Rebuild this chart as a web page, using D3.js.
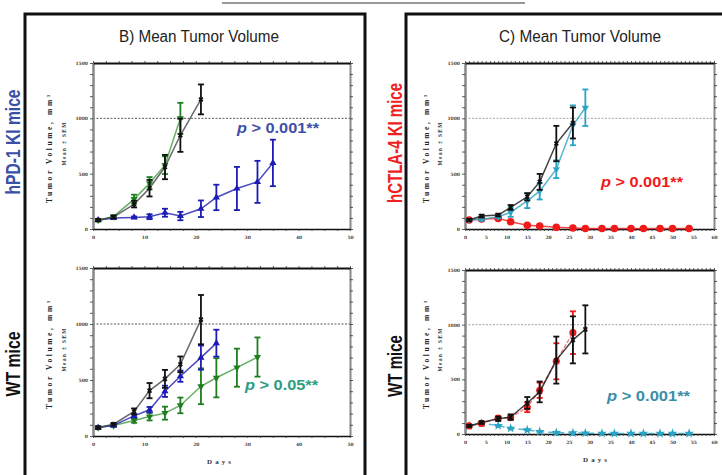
<!DOCTYPE html>
<html>
<head>
<meta charset="utf-8">
<script src="https://cdn.jsdelivr.net/npm/d3@7"></script>
<style>
  body { margin: 0; background: #fff; }
  text { font-family: "Liberation Sans", Arial, sans-serif; }
</style>
</head>
<body>
<div id="wrapper"></div>
<script>
// ---- Panel B (anti hPD-1), days of measurement
const daysB = [1, 4, 8, 11, 14, 17, 21, 24, 28, 32, 35];
// hPD-1 KI mice
const bKiBlack = [81, 108, 225, 369, 560, 847, 1171];
const bKiBlackSem = [10, 12, 30, 75, 110, 150, 135];
const bKiGreen = [80, 112, 270, 414, 577, 1000];
const bKiGreenSem = [10, 12, 40, 55, 80, 140];
const bKiBlue = [80, 99, 105, 111, 147, 117, 183, 285, 366, 426, 597];
const bKiBlueSem = [8, 8, 8, 22, 36, 38, 75, 115, 195, 190, 210];
// WT mice
const bWtBlack = [75, 105, 219, 405, 510, 640, 1039];
const bWtBlackSem = [10, 12, 27, 68, 80, 70, 220];
const bWtBlue = [75, 95, 180, 234, 399, 534, 700, 829];
const bWtBlueSem = [8, 10, 15, 25, 50, 50, 108, 120];
const bWtGreen = [75, 93, 138, 174, 204, 273, 444, 520, 610, 705];
const bWtGreenSem = [8, 10, 20, 35, 58, 70, 160, 175, 170, 175];

// ---- Panel C (anti hCTLA-4)
const daysC = [1, 4, 8, 11, 15, 18, 22, 26, 29, 33, 36, 40, 43, 47, 50, 54];
// hCTLA-4 KI mice
const cKiBlack = [81, 117, 126, 195, 291, 426, 772, 958];
const cKiBlackSem = [10, 12, 12, 22, 33, 72, 160, 140];
const cKiCyan = [81, 87, 111, 150, 255, 342, 540, 937, 1096];
const cKiCyanSem = [8, 10, 12, 40, 66, 75, 80, 180, 165];
const cKiRed = [81, 90, 96, 66, 33, 27, 15, 9, 5, 4, 4, 4, 4, 4, 4, 4];
const cKiRedSem = [8, 8, 8, 6, 5, 4, 3, 3, 2, 2, 2, 2, 2, 2, 2, 2];
// WT mice
const cWtBlack = [74, 105, 139, 155, 284, 385, 676, 861, 957];
const cWtBlackSem = [10, 12, 20, 25, 54, 95, 215, 215, 220];
const cWtRed = [74, 97, 145, 150, 245, 400, 665, 927];
const cWtRedSem = [8, 10, 15, 20, 45, 70, 165, 195];
const cWtCyan = [74, 97, 77, 52, 37, 22, 12, 10, 8, 6, 5, 5, 5, 5, 5, 5];
const cWtCyanSem = [6, 6, 6, 5, 4, 3, 2, 2, 2, 2, 2, 2, 2, 2, 2, 2];

// ticks
const yTicks = [0, 500, 1000, 1500];
const xTicksB = [0, 10, 20, 30, 40, 50];
const xTicksC = [0, 5, 10, 15, 20, 25, 30, 35, 40, 45, 50, 55, 60];

const BLACK = "#111", BLUE = "#1c1cb4", GREEN = "#1e7d1e", CYAN = "#2aa3c4", RED = "#f01a1a";

const svg = d3.select("#wrapper").append("svg")
    .attr("width", 722)
    .attr("height", 475);

// frames round the two panels
svg.append("line").attr("x1", 222).attr("x2", 525).attr("y1", 3).attr("y2", 3)
    .attr("stroke", "#333").attr("stroke-width", 1.2);
svg.append("path").attr("d", "M25,476V14H365V476")
    .attr("fill", "none").attr("stroke", "#111").attr("stroke-width", 3);
svg.append("path").attr("d", "M406,476V14H723")
    .attr("fill", "none").attr("stroke", "#111").attr("stroke-width", 3);

function addText(str, x, y, opt) {
    const t = svg.append("text")
        .attr("transform", `translate(${x},${y})` + (opt.rot ? " rotate(-90)" : ""))
        .attr("text-anchor", opt.anchor || "middle")
        .attr("font-size", opt.size)
        .attr("font-weight", opt.weight || "normal")
        .attr("fill", opt.color || "#222")
        .text(str);
    if (opt.len) t.attr("textLength", opt.len).attr("lengthAdjust", "spacingAndGlyphs");
    return t;
}

// panel titles and row labels
addText("B) Mean Tumor Volume", 199, 42, {size: 16, len: 160, color: "#222"});
addText("C) Mean Tumor Volume", 580, 42, {size: 16, len: 162, color: "#222"});
addText("hPD-1 KI mice", 20, 142, {size: 20, len: 105, weight: "bold", rot: true, color: "#3a4fa6"});
addText("WT mice", 20, 364, {size: 20, len: 65, weight: "bold", rot: true, color: "#111"});
addText("hCTLA-4 KI mice", 402, 143, {size: 20, len: 120, weight: "bold", rot: true, color: "#f02020"});
addText("WT mice", 402, 366, {size: 20, len: 62, weight: "bold", rot: true, color: "#111"});

function pLabel(x, y, str, color, len) {
    const t = addText("", x, y, {size: 15, weight: "bold", anchor: "start", color: color, len: len});
    t.append("tspan").attr("font-style", "italic").text("p");
    t.append("tspan").text(str);
}

function drawPlot(cfg) {
    const x = d3.scaleLinear().domain([0, cfg.xMax]).range([cfg.x0, cfg.x1]);
    const y = d3.scaleLinear().domain([0, 1500]).range([cfg.y0, cfg.y1]);
    const g = svg.append("g");
    const tickFont = "DejaVu Serif";

    // 1000 mm3 line
    g.append("line")
        .attr("x1", x(0)).attr("x2", x(cfg.xMax))
        .attr("y1", y(1000)).attr("y2", y(1000))
        .attr("stroke", cfg.refColor).attr("stroke-width", 0.9)
        .attr("stroke-dasharray", "2,1.5");

    const yMinor = d3.range(0, 1501, 100);
    const xMinor = d3.range(0, cfg.xMax + 0.01, cfg.xStep);

    const left = g.append("g")
        .attr("transform", `translate(${x(0)},0)`)
        .call(d3.axisLeft(y).tickValues(yMinor).tickSize(3).tickSizeOuter(0).tickPadding(2)
            .tickFormat(d => yTicks.includes(d) ? d : ""));
    left.select(".domain").attr("stroke", "#888").attr("stroke-width", 2.5);

    const right = g.append("g")
        .attr("transform", `translate(${x(cfg.xMax)},0)`)
        .call(d3.axisRight(y).tickValues(yMinor).tickSize(3).tickSizeOuter(0).tickFormat(""));
    right.select(".domain").attr("stroke", "#888").attr("stroke-width", 2);

    const top = g.append("g")
        .attr("transform", `translate(0,${y(1500)})`)
        .call(d3.axisTop(x).tickValues(xMinor).tickSize(2).tickSizeOuter(0).tickFormat(""));
    top.select(".domain").attr("stroke", "#111").attr("stroke-width", 2);

    const bottom = g.append("g")
        .attr("transform", `translate(0,${y(0)})`)
        .call(d3.axisBottom(x).tickValues(xMinor).tickSize(2).tickSizeOuter(0).tickPadding(5)
            .tickFormat(d => cfg.xTicks.includes(d) ? d : ""));
    bottom.select(".domain").attr("stroke", "#111").attr("stroke-width", 1.5);

    g.selectAll(".tick line").attr("stroke", "#333").attr("stroke-width", 0.8);
    g.selectAll(".tick text")
        .attr("font-size", 4.5).attr("font-weight", "bold")
        .attr("fill", "#444").style("font-family", tickFont);

    // y title
    const mid = (cfg.y0 + cfg.y1) / 2;
    g.append("text")
        .attr("transform", `translate(${cfg.x0 - cfg.t1},${mid + 3}) rotate(-90)`)
        .attr("text-anchor", "middle")
        .attr("font-size", 7.5).attr("font-weight", "bold").attr("fill", "#222")
        .attr("textLength", 108).attr("lengthAdjust", "spacing")
        .style("font-family", "Liberation Serif")
        .text("Tumor Volume, mm³");
    g.append("text")
        .attr("transform", `translate(${cfg.x0 - cfg.t2},${mid - 2}) rotate(-90)`)
        .attr("text-anchor", "middle")
        .attr("font-size", 5.5).attr("font-weight", "bold").attr("fill", "#333")
        .attr("textLength", 43).attr("lengthAdjust", "spacing")
        .style("font-family", "Liberation Serif")
        .text("Mean ± SEM");

    if (cfg.days) {
        g.append("text")
            .attr("x", cfg.daysX).attr("y", cfg.y0 + 28)
            .attr("text-anchor", "middle")
            .attr("font-size", 7).attr("font-weight", "bold").attr("fill", "#333")
            .attr("textLength", 24).attr("lengthAdjust", "spacing")
            .style("font-family", "Liberation Serif")
            .text("Days");
    }

    const line = d3.line().x(d => x(d.day)).y(d => y(d.mean));

    cfg.series.forEach(s => {
        const pts = s.mean.map((m, i) => ({day: s.days[i], mean: m, sem: s.sem[i]}));
        const sg = g.append("g");

        sg.append("path")
            .attr("d", line(pts))
            .attr("fill", "none")
            .attr("stroke", s.lineColor || s.color)
            .attr("stroke-width", 1.5)
            .attr("stroke-opacity", 0.8)
            .attr("stroke-dasharray", s.dash || null);

        const eb = sg.selectAll(".eb").data(pts).join("g");
        eb.append("line")
            .attr("x1", d => x(d.day)).attr("x2", d => x(d.day))
            .attr("y1", d => y(d.mean - d.sem)).attr("y2", d => y(d.mean + d.sem))
            .attr("stroke", s.color).attr("stroke-width", 1.8);
        [1, -1].forEach(k => {
            eb.append("line")
                .attr("x1", d => x(d.day) - 3).attr("x2", d => x(d.day) + 3)
                .attr("y1", d => y(d.mean + k * d.sem)).attr("y2", d => y(d.mean + k * d.sem))
                .attr("stroke", s.color).attr("stroke-width", 1.8);
        });

        sg.selectAll(".mk").data(pts).join("path")
            .attr("transform", d => `translate(${x(d.day)},${y(d.mean)}) rotate(${s.rot || 0})`)
            .attr("d", d3.symbol().type(s.symbol).size(s.size))
            .attr("fill", s.color);
    });
}

// B top: hPD-1 KI mice
drawPlot({
    x0: 93, x1: 350, y0: 229, y1: 63, xMax: 50, xStep: 2.5, xTicks: xTicksB,
    t1: 41, t2: 27, refColor: "#444",
    series: [
        {days: daysB, mean: bKiBlue, sem: bKiBlueSem, color: BLUE, symbol: d3.symbolTriangle, size: 22},
        {days: daysB, mean: bKiGreen, sem: bKiGreenSem, color: GREEN, lineColor: "#3f9a3f", symbol: d3.symbolTriangle, rot: 180, size: 22},
        {days: daysB, mean: bKiBlack, sem: bKiBlackSem, color: BLACK, lineColor: "#444", symbol: d3.symbolCross, rot: 45, size: 16}
    ]
});

// B bottom: WT mice
drawPlot({
    x0: 93, x1: 350, y0: 436, y1: 268, xMax: 50, xStep: 2.5, xTicks: xTicksB,
    t1: 41, t2: 27, days: true, daysX: 219, refColor: "#444",
    series: [
        {days: daysB, mean: bWtGreen, sem: bWtGreenSem, color: GREEN, lineColor: "#3f9a3f", symbol: d3.symbolTriangle, rot: 180, size: 22},
        {days: daysB, mean: bWtBlue, sem: bWtBlueSem, color: BLUE, symbol: d3.symbolTriangle, size: 22},
        {days: daysB, mean: bWtBlack, sem: bWtBlackSem, color: BLACK, lineColor: "#444", symbol: d3.symbolCross, rot: 45, size: 16}
    ]
});

// C top: hCTLA-4 KI mice
drawPlot({
    x0: 465, x1: 714, y0: 229, y1: 63, xMax: 60, xStep: 1, xTicks: xTicksC,
    t1: 36, t2: 23, refColor: "#999",
    series: [
        {days: daysC, mean: cKiRed, sem: cKiRedSem, color: RED, symbol: d3.symbolCircle, size: 45},
        {days: daysC, mean: cKiCyan, sem: cKiCyanSem, color: CYAN, symbol: d3.symbolTriangle, rot: 180, size: 22},
        {days: daysC, mean: cKiBlack, sem: cKiBlackSem, color: BLACK, symbol: d3.symbolCross, rot: 45, size: 16}
    ]
});

// C bottom: WT mice
drawPlot({
    x0: 465, x1: 714, y0: 434, y1: 270, xMax: 60, xStep: 1, xTicks: xTicksC,
    t1: 36, t2: 23, days: true, daysX: 595, refColor: "#999",
    series: [
        {days: daysC, mean: cWtCyan, sem: cWtCyanSem, color: CYAN, dash: "6,4", symbol: d3.symbolStar, size: 30},
        {days: daysC, mean: cWtRed, sem: cWtRedSem, color: RED, lineColor: "#f56060", dash: "4,2", symbol: d3.symbolCircle, size: 40},
        {days: daysC, mean: cWtBlack, sem: cWtBlackSem, color: BLACK, symbol: d3.symbolCross, rot: 45, size: 16}
    ]
});

// significance labels
pLabel(237, 133, " > 0.001**", "#3d4fa8", 82);
pLabel(245, 390, " > 0.05**", "#2a9e80", 73);
pLabel(601, 187, " > 0.001**", "#f01a1a", 82);
pLabel(607, 401, " > 0.001**", "#3a8ea8", 83);
</script>
</body>
</html>
